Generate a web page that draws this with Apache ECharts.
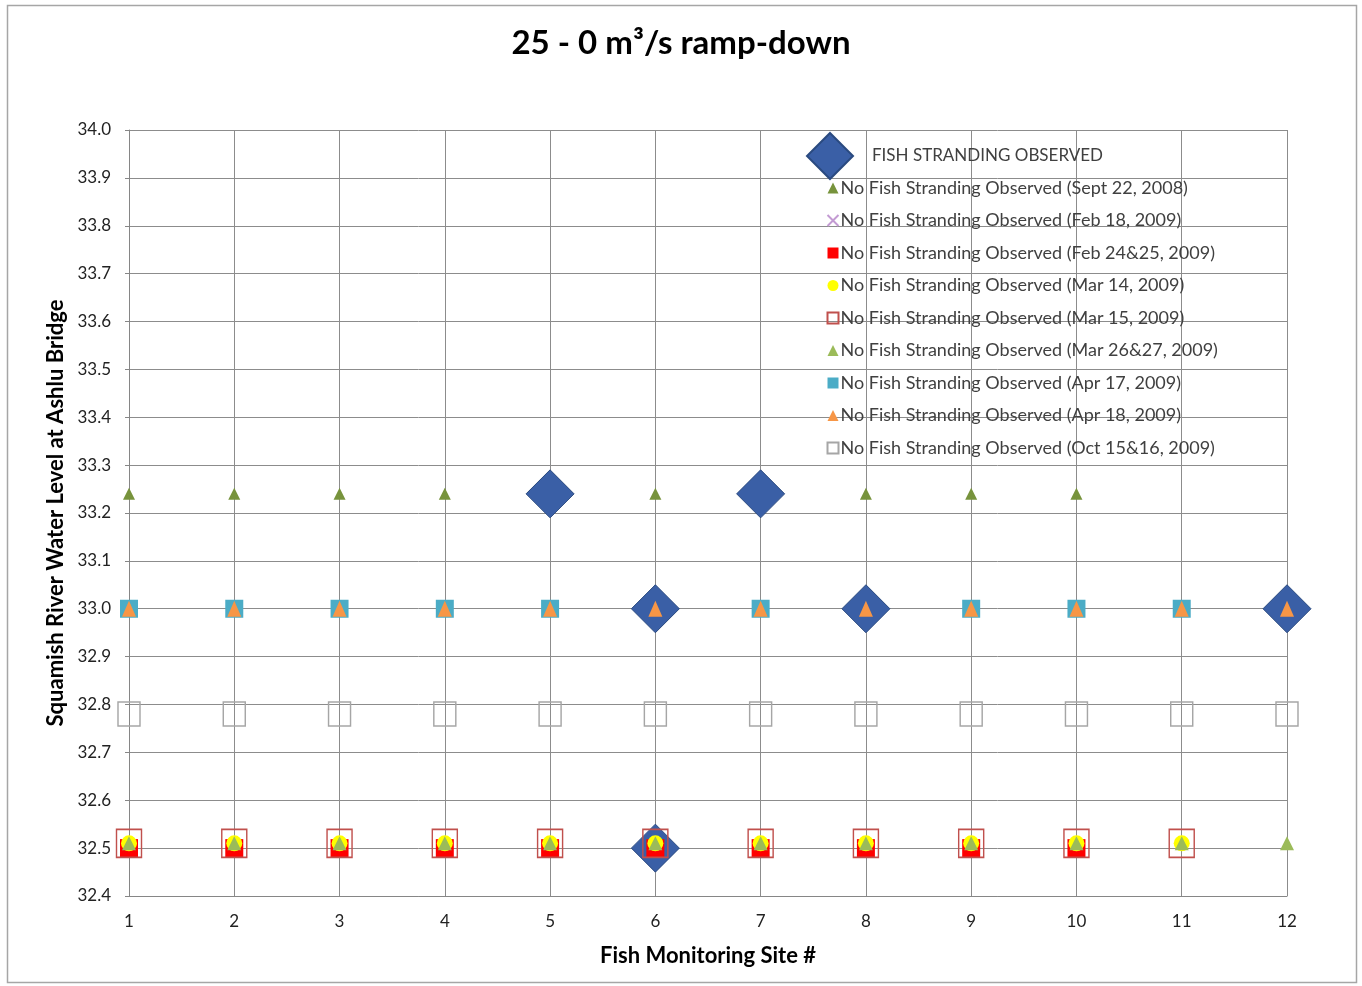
<!DOCTYPE html>
<html><head><meta charset="utf-8">
<script src="https://cdn.jsdelivr.net/npm/echarts@6/dist/echarts.min.js"></script>
<style>html,body{margin:0;padding:0;background:#fff}#c{width:1362px;height:986px}</style>
</head><body><div id="c"></div>
<script>
// ---- data ----
const sites = [1,2,3,4,5,6,7,8,9,10,11,12];
const strandSites  = [5, 7, 6, 8, 12, 6];
const strandLevels = [33.24, 33.24, 33.0, 33.0, 33.0, 32.5];
const sept22_2008  = [33.24,33.24,33.24,33.24,null,33.24,null,33.24,33.24,33.24,null,null];
const feb18_2009   = [null,null,null,null,null,null,null,null,null,null,null,null];
const feb2425_2009 = [32.5,32.5,32.5,32.5,32.5,32.5,32.5,32.5,32.5,32.5,null,null];
const mar14_2009   = [32.51,32.51,32.51,32.51,32.51,32.51,32.51,32.51,32.51,32.51,32.51,null];
const mar15_2009   = [32.51,32.51,32.51,32.51,32.51,32.51,32.51,32.51,32.51,32.51,32.51,null];
const mar2627_2009 = [32.51,32.51,32.51,32.51,32.51,32.51,32.51,32.51,32.51,32.51,32.51,32.51];
const apr17_2009   = [33.0,33.0,33.0,33.0,33.0,null,33.0,null,33.0,33.0,33.0,null];
const apr18_2009   = [33.0,33.0,33.0,33.0,33.0,33.0,33.0,33.0,33.0,33.0,33.0,33.0];
const oct1516_2009 = [32.78,32.78,32.78,32.78,32.78,32.78,32.78,32.78,32.78,32.78,32.78,32.78];

const names = [
  'FISH STRANDING OBSERVED',
  'No Fish Stranding Observed (Sept 22, 2008)',
  'No Fish Stranding Observed (Feb 18, 2009)',
  'No Fish Stranding Observed (Feb 24&25, 2009)',
  'No Fish Stranding Observed (Mar 14, 2009)',
  'No Fish Stranding Observed (Mar 15, 2009)',
  'No Fish Stranding Observed (Mar 26&27, 2009)',
  'No Fish Stranding Observed (Apr 17, 2009)',
  'No Fish Stranding Observed (Apr 18, 2009)',
  'No Fish Stranding Observed (Oct 15&16, 2009)'
];

function pts(vals){ return sites.map((s,i)=> vals[i]==null ? null : [s, vals[i]]).filter(p=>p); }

const FONT = 'Lato, "Open Sans", sans-serif';
const chart = echarts.init(document.getElementById('c'), null, {renderer:'canvas'});
const base = {type:'scatter', emphasis:{disabled:true}};
chart.setOption({
  animation:false,
  backgroundColor:'#fff',
  graphic:[{type:'rect', shape:{x:7.5,y:5.5,width:1349,height:977}, style:{fill:'none', stroke:'#a6a6a6', lineWidth:1.5}, silent:true}],
  title:{ text:'25 - 0 m³/s ramp-down', left:'center', top:22,
    textStyle:{fontFamily:FONT, fontSize:33, fontWeight:'bold', color:'#000'} },
  grid:{ left:129, right:75, top:130, bottom:90, containLabel:false },
  xAxis:{ type:'value', min:1, max:12, interval:1,
    name:'Fish Monitoring Site #', nameLocation:'middle', nameGap:49,
    nameTextStyle:{fontFamily:FONT, fontSize:22, fontWeight:'bold', color:'#000'},
    axisLine:{show:true, lineStyle:{color:'#868686'}},
    axisTick:{show:false},
    axisLabel:{fontFamily:FONT, fontSize:17, color:'#222', margin:17},
    splitLine:{show:true, lineStyle:{color:'#8c8c8c', width:1}} },
  yAxis:{ type:'value', min:32.4, max:34.0, interval:0.1,
    name:'Squamish River Water Level at Ashlu Bridge', nameLocation:'middle', nameGap:62, nameRotate:90,
    nameTextStyle:{fontFamily:FONT, fontSize:22, fontWeight:'bold', color:'#000'},
    axisLine:{show:true, lineStyle:{color:'#868686'}},
    axisTick:{show:true, length:4, inside:false, lineStyle:{color:'#868686'}},
    axisLabel:{fontFamily:FONT, fontSize:17, color:'#222', margin:18, formatter:v=>v.toFixed(1)},
    splitLine:{show:true, lineStyle:{color:'#8c8c8c', width:1}} },
  legend:[
    { data:[names[0]], left:801, top:127, itemWidth:46, itemHeight:46, itemGap:0,
      textStyle:{fontFamily:FONT, fontSize:17, color:'#404040', padding:[0,0,0,14]} },
    { data:names.slice(1), orient:'vertical', left:820, top:173, itemWidth:11, itemHeight:11, itemGap:12.5,
      textStyle:{fontFamily:FONT, fontSize:18, color:'#404040', lineHeight:20, padding:[0,0,0,-3]} }
  ],
  series:[
    Object.assign({}, base, { name:names[0], symbol:'diamond', symbolSize:[48,48],
      data:strandSites.map((s,i)=>[s, strandLevels[i]]),
      itemStyle:{color:'#3a5fa6', borderColor:'#2a4a80', borderWidth:1, opacity:1} }),
    Object.assign({}, base, { name:names[1], symbol:'triangle', symbolSize:[12,12], data:pts(sept22_2008),
      itemStyle:{color:'#77933c', opacity:1} }),
    Object.assign({}, base, { name:names[2], symbol:'path://M0,0L10,10M10,0L0,10', symbolSize:10, data:pts(feb18_2009),
      itemStyle:{color:'none', borderColor:'#c39bd3', borderWidth:1, opacity:1} }),
    Object.assign({}, base, { name:names[3], symbol:'rect', symbolSize:[18,18], data:pts(feb2425_2009),
      itemStyle:{color:'#ff0000', opacity:1} }),
    Object.assign({}, base, { name:names[4], symbol:'circle', symbolSize:[16,16], data:pts(mar14_2009),
      itemStyle:{color:'#ffff00', opacity:1} }),
    Object.assign({}, base, { name:names[5], symbol:'rect', symbolSize:[25,28], data:pts(mar15_2009),
      itemStyle:{color:'rgba(255,255,255,0)', borderColor:'#c0504d', borderWidth:1.5, opacity:1} }),
    Object.assign({}, base, { name:names[6], symbol:'triangle', symbolSize:[14,14], data:pts(mar2627_2009),
      itemStyle:{color:'#9bbb59', opacity:1} }),
    Object.assign({}, base, { name:names[7], symbol:'rect', symbolSize:[18,18], data:pts(apr17_2009),
      itemStyle:{color:'#4bacc6', opacity:1} }),
    Object.assign({}, base, { name:names[8], symbol:'triangle', symbolSize:[14,16], data:pts(apr18_2009),
      itemStyle:{color:'#f79646', opacity:1} }),
    Object.assign({}, base, { name:names[9], symbol:'rect', symbolSize:[22,24], data:pts(oct1516_2009),
      itemStyle:{color:'rgba(255,255,255,0)', borderColor:'#a6a6a6', borderWidth:1.5, opacity:1} })
  ]
});
</script></body></html>
